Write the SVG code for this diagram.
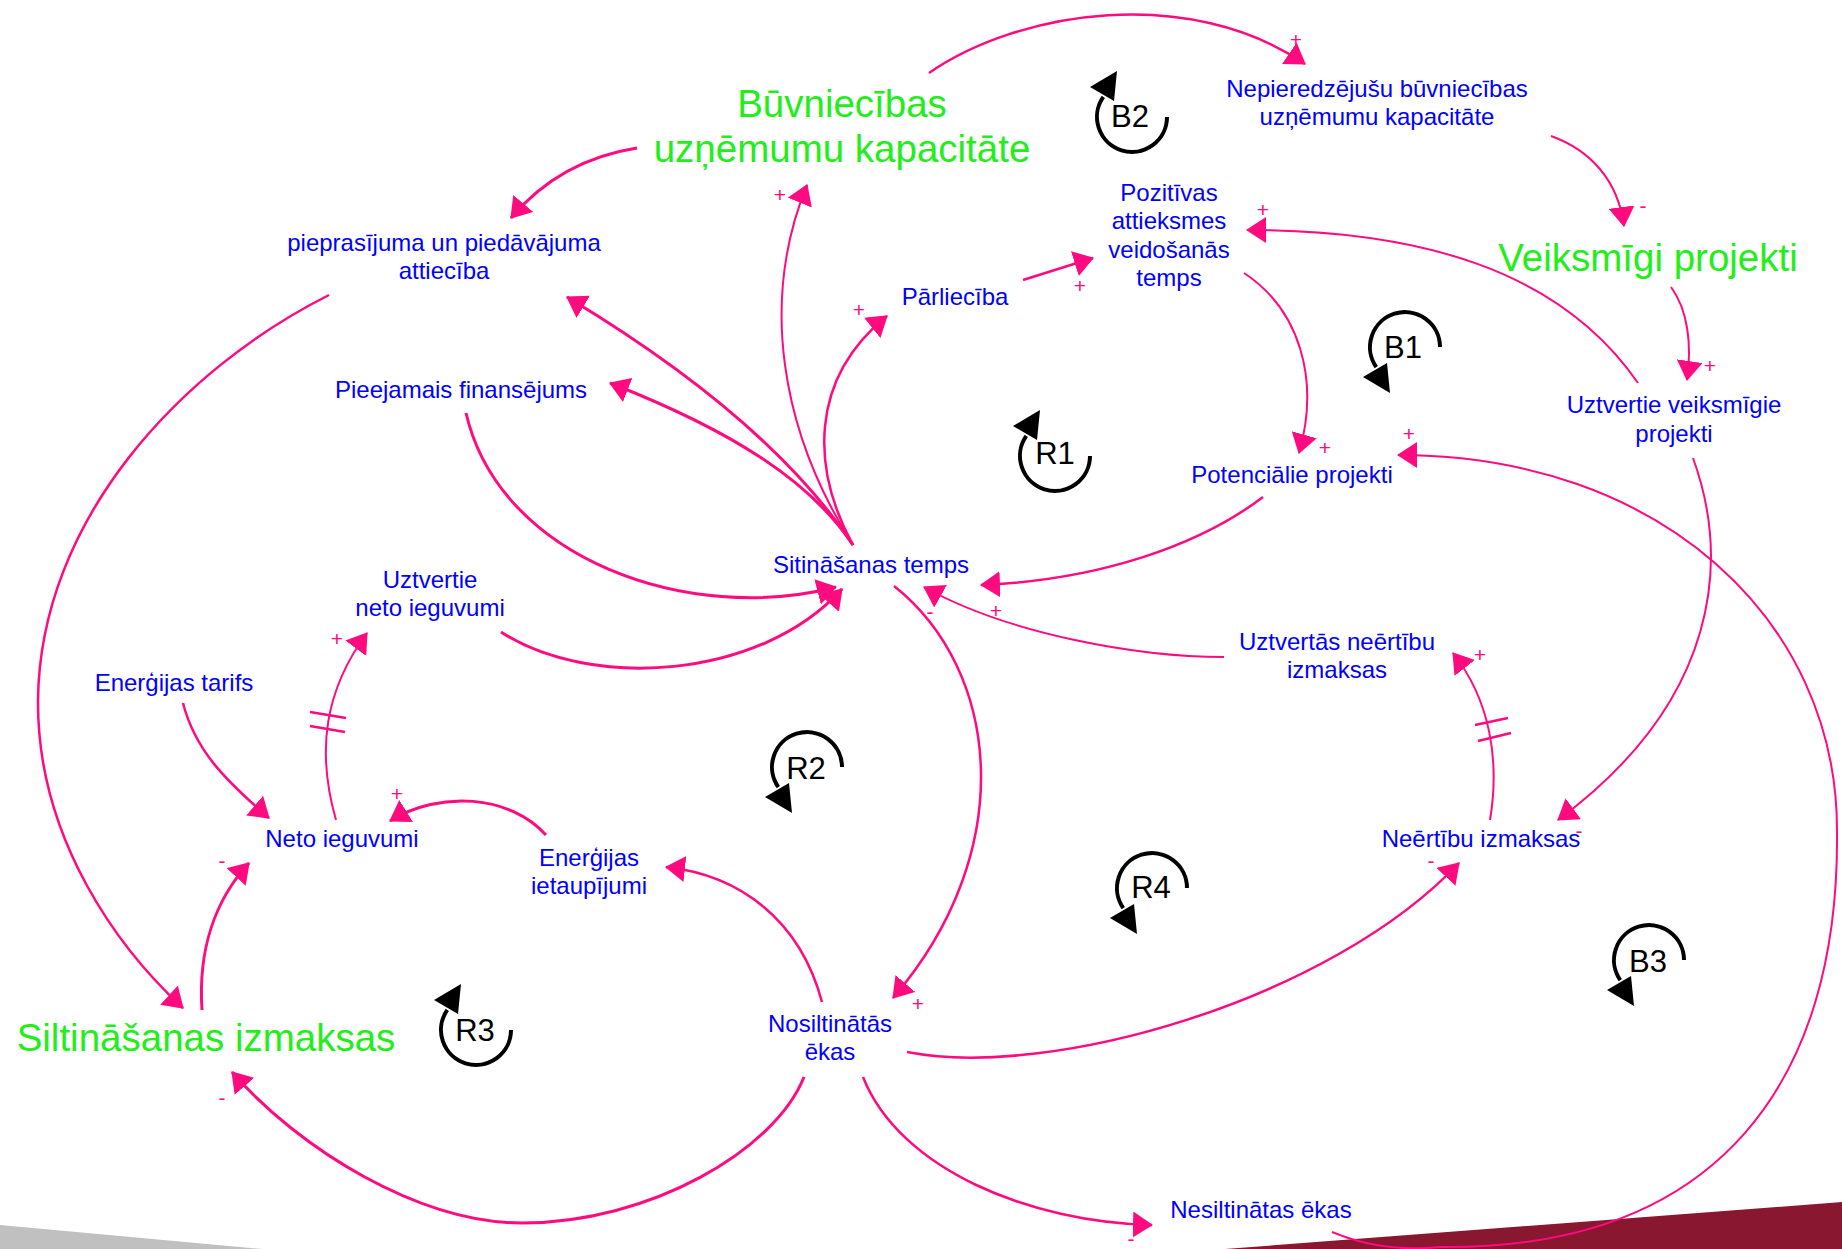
<svg xmlns="http://www.w3.org/2000/svg" width="1842" height="1249" viewBox="0 0 1842 1249">
<style>
.b{font-family:"Liberation Sans",Arial,sans-serif;font-size:24px;fill:#0000FF;text-anchor:middle}
.g{font-family:"Liberation Sans",Arial,sans-serif;font-size:38.5px;fill:#22EE1A;text-anchor:middle}
.c{fill:none;stroke:#FF0A7F;stroke-width:2.5;marker-end:url(#ah)}
.t3{stroke-width:3}
.t2{stroke-width:2}
.h{fill:none;stroke:#FF0A7F;stroke-width:2.5}
.s{font-family:"Liberation Sans",Arial,sans-serif;font-size:21px;fill:#FF0A7F;text-anchor:middle}
.lp{fill:none;stroke:#000;stroke-width:4}
.lt{font-family:"Liberation Sans",Arial,sans-serif;font-size:31px;fill:#000;text-anchor:middle}
</style>
<defs>
<marker id="ah" viewBox="0 0 20 26" refX="19" refY="13" markerWidth="20" markerHeight="26" markerUnits="userSpaceOnUse" orient="auto">
<path d="M0,0 L20,13 L0,26 z" fill="#FF0A7F"/>
</marker>
<g id="loopUp">
<path class="lp" d="M35,0 A35,35 0 1 1 -28.7,-20.1"/>
<polygon points="-15,-46 -42,-30 -18,-16" fill="#000"/>
</g>
</defs>
<g id="background">
<polygon points="0,1225 262,1249 0,1249" fill="#C0C0C0"/>
<polygon points="1225,1249 1842,1202 1842,1249" fill="#8A1730"/>
</g>
<g id="connectors">
<path class="c t3" d="M637,148 Q560,160 511,218"/>
<path class="c" d="M929,73 C1020,10 1190,-15 1305,64"/>
<path class="c t2" d="M853,545 C780,430 760,300 807,185"/>
<path class="c t3" d="M853,545 C790,450 680,365 567,297"/>
<path class="c t3" d="M853,545 C810,480 730,430 610,383"/>
<path class="c" d="M853,545 C812,470 808,380 887,316"/>
<path class="c" d="M1023,280 L1093,258"/>
<path class="c t2" d="M1244,273 C1300,310 1320,380 1299,453"/>
<path class="c t2" d="M1638,383 C1560,270 1420,230 1247,230"/>
<path class="c t2" d="M1551,136 C1590,150 1618,180 1624,226"/>
<path class="c t2" d="M1671,287 C1688,310 1692,345 1687,380"/>
<path class="c" d="M1263,497 C1200,545 1100,580 981,585"/>
<path class="c t2" d="M1224,657 C1140,657 1010,635 924,587"/>
<path class="c" d="M894,586 C1000,670 1020,850 893,998"/>
<path class="c" d="M329,295 C180,370 40,520 38,700 C37,840 120,950 183,1008"/>
<path class="c t3" d="M466,413 C500,560 690,625 836,587"/>
<path class="c t3" d="M501,632 C590,690 760,680 842,589"/>
<path class="c t2" d="M336,820 C316,750 325,690 367,633"/>
<path class="c" d="M183,703 C195,750 225,780 269,818"/>
<path class="c t3" d="M546,835 C510,795 440,790 390,821"/>
<path class="c t3" d="M202,1010 C198,950 215,900 249,863"/>
<path class="c" d="M822,1002 C800,920 740,875 666,867"/>
<path class="c t3" d="M804,1077 C775,1150 650,1223 522,1223 C420,1223 300,1150 232,1072"/>
<path class="c" d="M907,1052 C1050,1080 1330,1000 1459,863"/>
<path class="c" d="M863,1077 C900,1170 1030,1222 1152,1225"/>
<path class="c t2" d="M1332,1232 C1370,1248 1410,1250 1440,1247 C1720,1250 1840,1080 1837,830 C1837,620 1660,455 1398,455"/>
<path class="c t2" d="M1693,458 C1730,560 1720,700 1558,820"/>
<path class="c t2" d="M1490,820 C1500,760 1490,700 1453,653"/>
<path class="h" d="M310,712 L346,718 M310,726 L345,732"/>
<path class="h" d="M1475,725 L1508,718 M1478,741 L1511,733"/>
<g id="polarities">
<text class="s" x="1296" y="47">+</text>
<text class="s" x="780" y="202">+</text>
<text class="s" x="859" y="317">+</text>
<text class="s" x="1080" y="293">+</text>
<text class="s" x="1325" y="455">+</text>
<text class="s" x="1263" y="217">+</text>
<text class="s" x="1643" y="213">-</text>
<text class="s" x="1710" y="373">+</text>
<text class="s" x="996" y="618">+</text>
<text class="s" x="930" y="619">-</text>
<text class="s" x="918" y="1011">+</text>
<text class="s" x="337" y="646">+</text>
<text class="s" x="397" y="801">+</text>
<text class="s" x="222" y="868">-</text>
<text class="s" x="222" y="1105">-</text>
<text class="s" x="1431" y="868">-</text>
<text class="s" x="1131" y="1246">-</text>
<text class="s" x="1409" y="441">+</text>
<text class="s" x="1579" y="838">-</text>
<text class="s" x="1480" y="662">+</text>
</g>
</g>
<g id="loops">
<g id="loop-B2"><use href="#loopUp" transform="translate(1132,117)"/><text class="lt" x="1130" y="127">B2</text></g>
<g id="loop-B1"><use href="#loopUp" transform="translate(1405,347) scale(1,-1)"/><text class="lt" x="1403" y="358">B1</text></g>
<g id="loop-R1"><use href="#loopUp" transform="translate(1055,456)"/><text class="lt" x="1055" y="464">R1</text></g>
<g id="loop-R2"><use href="#loopUp" transform="translate(807,767) scale(1,-1)"/><text class="lt" x="806" y="779">R2</text></g>
<g id="loop-R3"><use href="#loopUp" transform="translate(476,1030)"/><text class="lt" x="475" y="1041">R3</text></g>
<g id="loop-R4"><use href="#loopUp" transform="translate(1152,888) scale(1,-1)"/><text class="lt" x="1151" y="898">R4</text></g>
<g id="loop-B3"><use href="#loopUp" transform="translate(1649,960) scale(1,-1)"/><text class="lt" x="1648" y="972">B3</text></g>
</g>
<g id="node-buvniecibas-kapacitate"><text class="g" x="842" y="117">Būvniecības</text><text class="g" x="842" y="162">uzņēmumu kapacitāte</text></g>
<g id="node-nepieredzejusu"><text class="b" x="1377" y="97">Nepieredzējušu būvniecības</text><text class="b" x="1377" y="125">uzņēmumu kapacitāte</text></g>
<g id="node-veiksmigi-projekti"><text class="g" x="1648" y="271">Veiksmīgi projekti</text></g>
<g id="node-pozitivas-attieksmes"><text class="b" x="1169" y="201">Pozitīvas</text><text class="b" x="1169" y="229">attieksmes</text><text class="b" x="1169" y="258">veidošanās</text><text class="b" x="1169" y="286">temps</text></g>
<g id="node-parlieciba"><text class="b" x="955" y="305">Pārliecība</text></g>
<g id="node-pieprasijuma"><text class="b" x="444" y="251">pieprasījuma un piedāvājuma</text><text class="b" x="444" y="279">attiecība</text></g>
<g id="node-pieejamais-finansejums"><text class="b" x="461" y="398">Pieejamais finansējums</text></g>
<g id="node-sitinasanas-temps"><text class="b" x="871" y="573">Sitināšanas temps</text></g>
<g id="node-potencialie-projekti"><text class="b" x="1292" y="483">Potenciālie projekti</text></g>
<g id="node-uztvertie-veiksmigie"><text class="b" x="1674" y="413">Uztvertie veiksmīgie</text><text class="b" x="1674" y="442">projekti</text></g>
<g id="node-uztvertie-neto"><text class="b" x="430" y="588">Uztvertie</text><text class="b" x="430" y="616">neto ieguvumi</text></g>
<g id="node-energijas-tarifs"><text class="b" x="174" y="691">Enerģijas tarifs</text></g>
<g id="node-neto-ieguvumi"><text class="b" x="342" y="847">Neto ieguvumi</text></g>
<g id="node-energijas-ietaupijumi"><text class="b" x="589" y="866">Enerģijas</text><text class="b" x="589" y="894">ietaupījumi</text></g>
<g id="node-siltinasanas-izmaksas"><text class="g" x="206" y="1051">Siltināšanas izmaksas</text></g>
<g id="node-nosiltinatas-ekas"><text class="b" x="830" y="1032">Nosiltinātās</text><text class="b" x="830" y="1060">ēkas</text></g>
<g id="node-uztvertas-neertibu"><text class="b" x="1337" y="650">Uztvertās neērtību</text><text class="b" x="1337" y="678">izmaksas</text></g>
<g id="node-neertibu-izmaksas"><text class="b" x="1481" y="847">Neērtību izmaksas</text></g>
<g id="node-nesiltinatas-ekas"><text class="b" x="1261" y="1218">Nesiltinātas ēkas</text></g>
</svg>
